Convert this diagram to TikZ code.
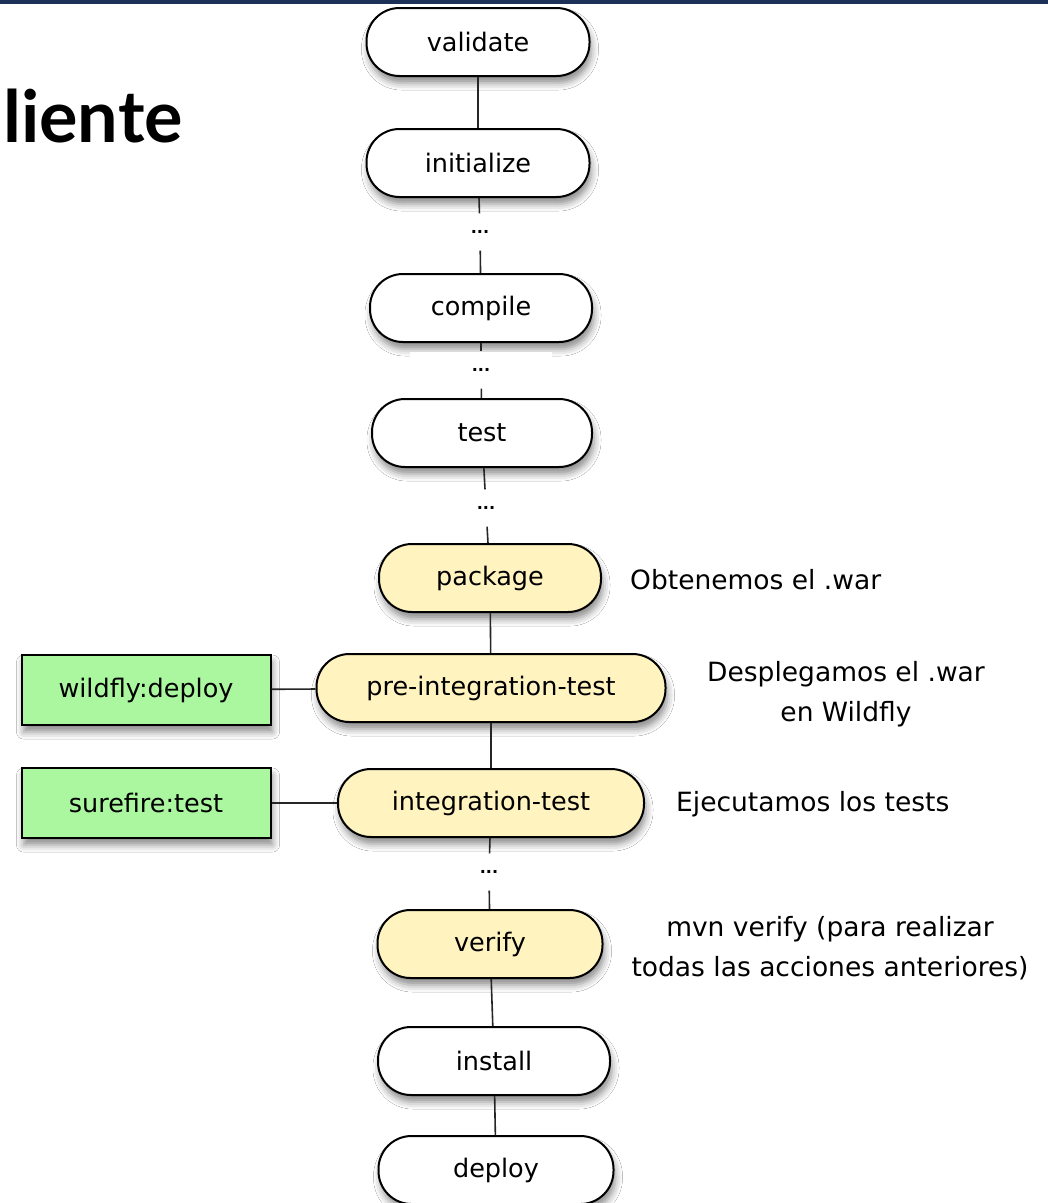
\documentclass[tikz,border=0pt]{standalone}
\usepackage{fontspec}
\setmainfont{DejaVu Sans}
\newfontfamily\titlefont{Lato}
\usetikzlibrary{shadows.blur}
\definecolor{navy}{RGB}{28,48,88}
\definecolor{phaseyellow}{RGB}{255,243,192}
\definecolor{goalgreen}{RGB}{170,247,160}
\tikzset{
  phase/.style={draw=black, line width=2pt, rounded corners=33pt, minimum height=68pt,
    fill=white, font=\fontsize{25.5}{28}\selectfont, inner sep=0pt,
    blur shadow={shadow xshift=2pt, shadow yshift=-7pt, shadow blur radius=7pt, shadow opacity=45}},
  hl/.style={fill=phaseyellow},
  goal/.style={draw=black, line width=2pt, fill=goalgreen, minimum width=249pt, minimum height=70pt,
    font=\fontsize{25.5}{28}\selectfont, inner sep=0pt,
    blur shadow={shadow xshift=2pt, shadow yshift=-7pt, shadow blur radius=7pt, shadow opacity=45}},
  dots/.style={fill=white, minimum width=142pt, minimum height=37pt, inner sep=0pt, font=\bfseries\fontsize{16}{20}\selectfont},
  link/.style={draw=black!85, line width=1.6pt},
  desc/.style={font=\fontsize{26.5}{40}\selectfont, inner sep=0pt}
}
\begin{document}
\begin{tikzpicture}[x=1pt, y=-1pt]
\useasboundingbox (0,0) rectangle (1048,1203);
\fill[white] (0,0) rectangle (1048,1203);
\begin{scope}
\clip (0,0) rectangle (1048,1203);
\fill[navy] (0,0) rectangle (1048,4);
\node[anchor=base west, font=\titlefont\bfseries\fontsize{72}{80}\selectfont, inner sep=0pt] (title) at (3,142) {liente};

\node[phase, minimum width=223pt] (validate) at (478,42) {validate};
\node[phase, minimum width=223pt] (initialize) at (478,163) {initialize};
\node[dots] (d1) at (480,232) {...};
\node[phase, minimum width=222pt] (compile) at (481,308) {compile};
\node[dots] (d2) at (481,370) {...};
\node[phase, minimum width=220pt] (test) at (482,433) {test};
\node[dots] (d3) at (486,508) {...};
\node[phase, hl, minimum width=222pt] (package) at (490,578) {package};
\node[phase, hl, minimum width=349pt] (preint) at (491,688) {pre-integration-test};
\node[goal] (wildfly) at (146,690) {wildfly:deploy};
\node[phase, hl, minimum width=306pt] (integ) at (491,803) {integration-test};
\node[goal] (surefire) at (146,803) {surefire:test};
\node[dots] (d4) at (489,872) {...};
\node[phase, hl, minimum width=225pt] (verify) at (490,944) {verify};
\node[phase, minimum width=232pt] (install) at (494,1061) {install};
\node[phase, minimum width=235pt] (deploy) at (496,1170) {deploy};

\node[desc, anchor=west] (t1) at (630,580) {Obtenemos el .war};
\node[desc, align=center] (t2) at (846,694) {Desplegamos el .war\\en Wildfly};
\node[desc, anchor=west] (t3) at (676,804) {Ejecutamos los tests};
\node[desc, align=center] (t4) at (830,948) {mvn verify (para realizar\\todas las acciones anteriores)};
\end{scope}

\draw[link] (validate) -- (initialize);
\draw[link] (initialize) -- (d1);
\draw[link] (d1) -- (compile);
\draw[link] (compile) -- (d2);
\draw[link] (d2) -- (test);
\draw[link] (test) -- (d3);
\draw[link] (d3) -- (package);
\draw[link] (package) -- (preint);
\draw[link] (preint) -- (integ);
\draw[link] (integ) -- (d4);
\draw[link] (d4) -- (verify);
\draw[link] (verify) -- (install);
\draw[link] (install) -- (deploy);
\draw[link] (wildfly) -- (preint);
\draw[link] (surefire) -- (integ);
\end{tikzpicture}
\end{document}
